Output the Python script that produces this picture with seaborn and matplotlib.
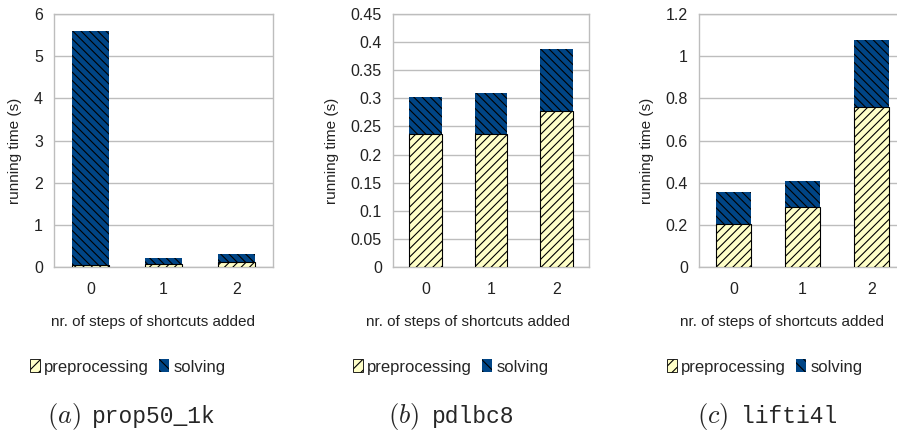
import pandas as pd
import seaborn as sns
import matplotlib.pyplot as plt
from matplotlib.patches import Patch
from matplotlib.ticker import MultipleLocator, FuncFormatter

steps = ['0', '1', '2']

# running times (total = preprocessing + solving)
prop_pre = [0.05, 0.07, 0.12]
prop_total = [5.60, 0.22, 0.31]
pdl_pre = [0.237, 0.237, 0.278]
pdl_total = [0.303, 0.309, 0.388]
lifti_pre = [0.205, 0.285, 0.76]
lifti_total = [0.355, 0.41, 1.075]

y_max = [6, 0.45, 1.2]
y_step = [1, 0.05, 0.2]
letters = ['(a)', '(b)', '(c)']
names = ['prop50_1k', 'pdlbc8', 'lifti4l']

pre_color = '#FFFFC8'
solve_color = '#004586'
grid_color = '#BDBDBD'

sns.set_theme(style='white')
plt.rcParams['font.family'] = ['Liberation Sans', 'DejaVu Sans']
plt.rcParams['mathtext.fontset'] = 'cm'
plt.rcParams['hatch.linewidth'] = 0.8

fig = plt.figure(figsize=(8.97, 4.36), dpi=100)

# axes boxes in figure fraction: left, width, ylabel x, xlabel x
boxes = [(0.0602, 0.2441, -0.146, 0.454),
         (0.4381, 0.2185, -0.276, 0.385),
         (0.7793, 0.2308, -0.217, 0.399)]
legend_x = [30, 353, 667]
letter_x = [47, 388, 697]
name_x = [92, 432, 741]

data = [(prop_pre, prop_total), (pdl_pre, pdl_total), (lifti_pre, lifti_total)]

for i, (pre, total) in enumerate(data):
    left, width, ylab_x, xlab_x = boxes[i]
    ax = fig.add_axes([left, 0.3876, width, 0.5803])
    df = pd.DataFrame({'steps': steps, 'pre': pre, 'total': total})

    sns.barplot(data=df, x='steps', y='total', ax=ax, width=0.5, saturation=1,
                color=solve_color, edgecolor='black', linewidth=0, hatch='\\\\\\\\',
                zorder=3)
    sns.barplot(data=df, x='steps', y='pre', ax=ax, width=0.5, saturation=1,
                color=pre_color, edgecolor='black', linewidth=0.8, hatch='////',
                zorder=4)

    ax.set_xlim(-0.5, 2.5)
    ax.set_ylim(0, y_max[i])
    ax.yaxis.set_major_locator(MultipleLocator(y_step[i]))
    ax.yaxis.set_major_formatter(FuncFormatter(lambda v, p: '%g' % round(v, 3)))
    ax.grid(axis='y', color=grid_color, linewidth=1, zorder=0)
    ax.set_axisbelow(True)
    for s in ax.spines.values():
        s.set_color(grid_color)
        s.set_linewidth(1)

    ax.set_xticks([-0.5, 0.5, 1.5, 2.5], minor=True)
    ax.tick_params(axis='x', which='major', length=0, pad=11, labelsize=11.5, colors='#222222')
    ax.tick_params(axis='x', which='minor', length=7, width=1, color=grid_color, direction='out')
    ax.tick_params(axis='y', length=5, width=1, color=grid_color, direction='out',
                   labelsize=11.5, labelcolor='#222222', pad=3)

    ax.set_ylabel('running time (s)', fontsize=11, color='#222222')
    ax.yaxis.set_label_coords(ylab_x, 0.458)
    ax.set_xlabel('nr. of steps of shortcuts added', fontsize=11, color='#222222')
    ax.xaxis.set_label_coords(xlab_x, -0.19)

    handles = [Patch(facecolor=pre_color, edgecolor='black', linewidth=0.6, hatch='///'),
               Patch(facecolor=solve_color, edgecolor='black', linewidth=0, hatch='\\\\\\')]
    fig.legend(handles, ['preprocessing', 'solving'], loc='center left',
               bbox_to_anchor=(legend_x[i] / 897, 1 - 367 / 436), ncol=2, frameon=False,
               fontsize=12, handlelength=0.6, handleheight=0.8, handletextpad=0.25,
               columnspacing=0.6, borderpad=0, borderaxespad=0)

    fig.text(letter_x[i] / 897, 1 - 423 / 436, '$' + letters[i] + '$', fontsize=19,
             ha='left', va='baseline')
    fig.text(name_x[i] / 897, 1 - 423 / 436, names[i], fontsize=16.5,
             family='Liberation Mono', ha='left', va='baseline')

fig.savefig('out.png', dpi=100)
